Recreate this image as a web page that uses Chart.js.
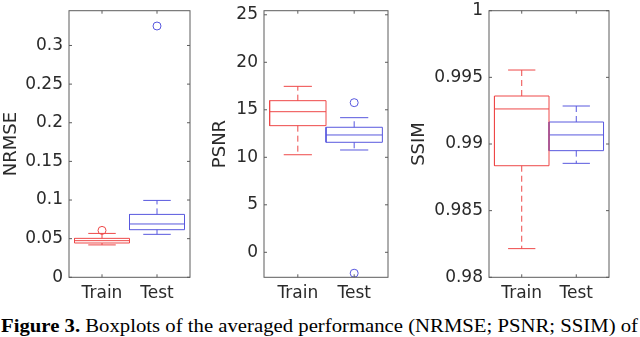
<!DOCTYPE html>
<html><head><meta charset="utf-8">
<script src="https://cdn.jsdelivr.net/npm/chart.js@4.4.1/dist/chart.umd.min.js"></script>
<style>
html,body{margin:0;padding:0;background:#fff;width:640px;height:337px;overflow:hidden;}
canvas{position:absolute;top:0;}
#caption{position:absolute;left:1px;top:316px;font-family:"Liberation Serif","Times New Roman",serif;font-size:19px;line-height:19px;white-space:nowrap;color:#000;transform-origin:0 0;}
</style></head><body>
<canvas id="c1" width="195" height="305" style="left:0px"></canvas>
<canvas id="c2" width="184" height="305" style="left:209px"></canvas>
<canvas id="c3" width="205" height="305" style="left:408px"></canvas>
<div id="caption"><b>Figure 3.</b> Boxplots of the averaged performance (NRMSE; PSNR; SSIM) of</div>
<script>
const categories = ['Train', 'Test'];
const boxColors = ['rgb(238,72,72)', 'rgb(88,88,222)'];

// NRMSE
const nrmseLower    = [0.0419, 0.0556];
const nrmseQ1       = [0.0444, 0.0616];
const nrmseMedian   = [0.0474, 0.0690];
const nrmseQ3       = [0.0504, 0.0814];
const nrmseUpper    = [0.0568, 0.0995];
const nrmseOutliers = [[0.0607], [0.3252]];
const nrmseTicks    = [0, 0.05, 0.1, 0.15, 0.2, 0.25, 0.3];

// PSNR
const psnrLower    = [10.27, 10.77];
const psnrQ1       = [13.33, 11.58];
const psnrMedian   = [14.80, 12.35];
const psnrQ3       = [15.96, 13.16];
const psnrUpper    = [17.47, 14.17];
const psnrOutliers = [[], [15.75, -2.2]];
const psnrTicks    = [0, 5, 10, 15, 20, 25];

// SSIM
const ssimLower    = [0.98215, 0.98855];
const ssimQ1       = [0.98837, 0.98950];
const ssimMedian   = [0.99263, 0.99068];
const ssimQ3       = [0.99360, 0.99165];
const ssimUpper    = [0.99555, 0.99285];
const ssimOutliers = [[], []];
const ssimTicks    = [0.98, 0.985, 0.99, 0.995, 1];

const TICK_FONT = {family: '"DejaVu Sans", sans-serif', size: 17};
const TITLE_FONT = {family: '"DejaVu Sans", sans-serif', size: 18, lineHeight: 1.2};
const TEXT_COLOR = '#2a2a2a';

function boxDatasets(lower, q1, med, q3, upper, outliers) {
  const ds = [];
  categories.forEach((c, i) => {
    const x = i + 1, col = boxColors[i], hw = 0.5, cw = 0.25;
    const line = (pts, dash) => ({type: 'scatter', data: pts, showLine: true, borderColor: col,
      borderWidth: 1, pointRadius: 0, borderDash: dash || [], fill: false, tension: 0});
    ds.push(line([{x: x - hw, y: q1[i]}, {x: x + hw, y: q1[i]}, {x: x + hw, y: q3[i]}, {x: x - hw, y: q3[i]}, {x: x - hw, y: q1[i]}]));
    ds.push(line([{x: x - hw, y: med[i]}, {x: x + hw, y: med[i]}]));
    ds.push(line([{x: x, y: q3[i]}, {x: x, y: upper[i]}], [6, 4]));
    ds.push(line([{x: x, y: q1[i]}, {x: x, y: lower[i]}], [6, 4]));
    ds.push(line([{x: x - cw, y: upper[i]}, {x: x + cw, y: upper[i]}]));
    ds.push(line([{x: x - cw, y: lower[i]}, {x: x + cw, y: lower[i]}]));
    ds.push({type: 'scatter', data: outliers[i].map(v => ({x: x, y: v})), pointRadius: 4, pointStyle: 'circle',
      borderColor: col, backgroundColor: 'rgba(0,0,0,0)', borderWidth: 1});
  });
  return ds;
}

const frame = {
  id: 'frame',
  afterDraw(chart) {
    const {ctx, chartArea: a, scales: {x, y}} = chart;
    ctx.save();
    ctx.strokeStyle = '#5c5c5c';
    ctx.lineWidth = 1;
    ctx.strokeRect(a.left, a.top, a.right - a.left, a.bottom - a.top);
    const L = 3;
    ctx.beginPath();
    y.ticks.forEach(t => {
      const p = y.getPixelForValue(t.value);
      ctx.moveTo(a.left, p); ctx.lineTo(a.left + L, p);
      ctx.moveTo(a.right, p); ctx.lineTo(a.right - L, p);
    });
    x.ticks.forEach(t => {
      const p = x.getPixelForValue(t.value);
      ctx.moveTo(p, a.bottom); ctx.lineTo(p, a.bottom - L);
      ctx.moveTo(p, a.top); ctx.lineTo(p, a.top + L);
    });
    ctx.stroke();
    ctx.restore();
  }
};

function makeChart(id, title, ticks, yMin, yMax, yWidth, datasets) {
  return new Chart(document.getElementById(id), {
    type: 'scatter',
    data: {datasets: datasets},
    options: {
      responsive: false, animation: false, devicePixelRatio: 1,
      layout: {padding: {top: 10.7, right: 4, bottom: 0, left: 0}},
      plugins: {legend: {display: false}, tooltip: {enabled: false}},
      scales: {
        x: {
          type: 'linear', min: 0.4, max: 2.6,
          grid: {display: false, drawTicks: false}, border: {display: false},
          afterBuildTicks: s => { s.ticks = categories.map((c, i) => ({value: i + 1})); },
          afterFit: s => { s.height = 27.7; s.paddingLeft = 0; s.paddingRight = 0; },
          ticks: {font: TICK_FONT, color: TEXT_COLOR, padding: 6, maxRotation: 0,
            callback: v => categories[Math.round(v) - 1]}
        },
        y: {
          type: 'linear', min: yMin, max: yMax,
          grid: {display: false, drawTicks: false}, border: {display: false},
          afterBuildTicks: s => { s.ticks = ticks.map(v => ({value: v})); },
          afterFit: s => { s.width = yWidth; s.paddingTop = 0; s.paddingBottom = 0; },
          ticks: {font: TICK_FONT, color: TEXT_COLOR, padding: 6,
            callback: v => String(ticks.find(t => Math.abs(t - v) < 1e-9) ?? v)},
          title: {display: true, text: title, font: TITLE_FONT, color: TEXT_COLOR, padding: {top: 1, bottom: 0}}
        }
      }
    },
    plugins: [frame]
  });
}

makeChart('c1', 'NRMSE', nrmseTicks, 0, 0.345, 69,
  boxDatasets(nrmseLower, nrmseQ1, nrmseMedian, nrmseQ3, nrmseUpper, nrmseOutliers));
makeChart('c2', 'PSNR', psnrTicks, -2.63, 25.43, 55,
  boxDatasets(psnrLower, psnrQ1, psnrMedian, psnrQ3, psnrUpper, psnrOutliers));
makeChart('c3', 'SSIM', ssimTicks, 0.98, 1, 81,
  boxDatasets(ssimLower, ssimQ1, ssimMedian, ssimQ3, ssimUpper, ssimOutliers));

// stretch caption to the reference's printed width
const cap = document.getElementById('caption');
const w = cap.getBoundingClientRect().width;
cap.style.transform = 'scaleX(' + (637 / w) + ')';
</script>
</body></html>
